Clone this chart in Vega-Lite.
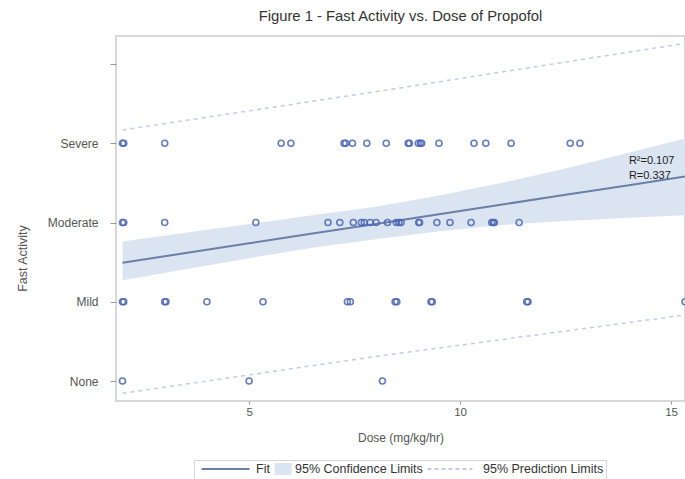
{
  "$schema": "https://vega.github.io/schema/vega-lite/v6.json",
  "autosize": "none",
  "width": 569,
  "height": 365,
  "padding": {"left": 116, "top": 36, "right": 0, "bottom": 78},
  "background": "white",
  "title": {"text": "Figure 1 - Fast Activity vs. Dose of Propofol", "fontSize": 14.8, "fontWeight": "normal", "color": "#333333", "offset": 12, "anchor": "middle"},
  "config": {
    "font": "Liberation Sans",
    "view": {"stroke": "#cccccc", "strokeWidth": 1.5}
  },
  "datasets": {
    "pts": [
      {"dose": 2.0, "level": 3}, {"dose": 2.03, "level": 3}, {"dose": 3.0, "level": 3}, {"dose": 5.76, "level": 3}, {"dose": 5.99, "level": 3},
      {"dose": 7.25, "level": 3}, {"dose": 7.29, "level": 3}, {"dose": 7.45, "level": 3}, {"dose": 7.79, "level": 3}, {"dose": 8.25, "level": 3},
      {"dose": 8.77, "level": 3}, {"dose": 8.8, "level": 3}, {"dose": 9.01, "level": 3}, {"dose": 9.06, "level": 3}, {"dose": 9.09, "level": 3},
      {"dose": 9.5, "level": 3}, {"dose": 10.33, "level": 3}, {"dose": 10.61, "level": 3}, {"dose": 11.21, "level": 3}, {"dose": 12.61, "level": 3}, {"dose": 12.84, "level": 3},
      {"dose": 2.0, "level": 2}, {"dose": 2.03, "level": 2}, {"dose": 3.0, "level": 2}, {"dose": 5.16, "level": 2}, {"dose": 6.87, "level": 2},
      {"dose": 7.15, "level": 2}, {"dose": 7.47, "level": 2}, {"dose": 7.66, "level": 2}, {"dose": 7.73, "level": 2}, {"dose": 7.87, "level": 2},
      {"dose": 8.01, "level": 2}, {"dose": 8.28, "level": 2}, {"dose": 8.49, "level": 2}, {"dose": 8.55, "level": 2}, {"dose": 8.6, "level": 2},
      {"dose": 9.02, "level": 2}, {"dose": 9.04, "level": 2}, {"dose": 9.45, "level": 2}, {"dose": 9.76, "level": 2}, {"dose": 10.26, "level": 2},
      {"dose": 10.75, "level": 2}, {"dose": 10.79, "level": 2}, {"dose": 10.81, "level": 2}, {"dose": 11.4, "level": 2},
      {"dose": 2.0, "level": 1}, {"dose": 2.03, "level": 1}, {"dose": 3.0, "level": 1}, {"dose": 3.03, "level": 1}, {"dose": 4.0, "level": 1},
      {"dose": 5.33, "level": 1}, {"dose": 7.33, "level": 1}, {"dose": 7.4, "level": 1}, {"dose": 8.46, "level": 1}, {"dose": 8.5, "level": 1},
      {"dose": 9.31, "level": 1}, {"dose": 9.34, "level": 1}, {"dose": 11.58, "level": 1}, {"dose": 11.61, "level": 1}, {"dose": 15.33, "level": 1},
      {"dose": 2.0, "level": 0}, {"dose": 5.0, "level": 0}, {"dose": 8.16, "level": 0}
    ],
    "band": [
      {"dose": 2.0, "fit": 1.493, "lo": 1.27, "hi": 1.76},
      {"dose": 3.5, "fit": 1.615, "lo": 1.41, "hi": 1.87},
      {"dose": 5.0, "fit": 1.738, "lo": 1.55, "hi": 1.98},
      {"dose": 6.5, "fit": 1.86, "lo": 1.68, "hi": 2.09},
      {"dose": 8.0, "fit": 1.982, "lo": 1.79, "hi": 2.2},
      {"dose": 9.5, "fit": 2.104, "lo": 1.89, "hi": 2.34},
      {"dose": 11.0, "fit": 2.227, "lo": 1.97, "hi": 2.5},
      {"dose": 12.5, "fit": 2.349, "lo": 2.02, "hi": 2.68},
      {"dose": 14.0, "fit": 2.471, "lo": 2.06, "hi": 2.88},
      {"dose": 15.33, "fit": 2.579, "lo": 2.09, "hi": 3.06}
    ],
    "pred": [
      {"dose": 2.0, "plo": -0.155, "phi": 3.167},
      {"dose": 8.0, "plo": 0.31, "phi": 3.65},
      {"dose": 15.33, "plo": 0.833, "phi": 4.26}
    ],
    "ann": [
      {"dose": 14.0, "level": 2.776, "txt": "R²=0.107"},
      {"dose": 14.0, "level": 2.587, "txt": "R=0.337"}
    ]
  },
  "layer": [
    {
      "data": {"name": "band"},
      "mark": {"type": "area", "clip": true, "opacity": 1},
      "encoding": {
        "x": {"field": "dose", "type": "quantitative", "scale": {"domain": [1.846, 15.33], "nice": false, "zero": false},
          "axis": {"values": [5, 10, 15], "grid": false, "domain": false, "tickSize": 3, "tickColor": "#999999", "labelFontSize": 11.5, "labelColor": "#555555", "labelPadding": 2,
            "title": "Dose (mg/kg/hr)", "titleFontSize": 12, "titleFontWeight": "normal", "titleColor": "#555555", "titlePadding": 15}},
        "y": {"field": "lo", "type": "quantitative", "scale": {"domain": [-0.252, 4.353], "nice": false, "zero": false},
          "axis": {"values": [0, 1, 2, 3, 4], "grid": false, "domain": false, "tickSize": 6, "tickColor": "#999999", "labelFontSize": 12, "labelColor": "#555555", "labelPadding": 12,
            "labelExpr": "datum.value == 0 ? 'None' : datum.value == 1 ? 'Mild' : datum.value == 2 ? 'Moderate' : datum.value == 3 ? 'Severe' : ''",
            "title": "Fast Activity", "titleFontSize": 12.5, "titleFontWeight": "normal", "titleColor": "#555555", "titleX": -94, "titleY": 222, "titleAngle": -90, "titleBaseline": "middle", "titleAlign": "center"}},
        "y2": {"field": "hi"},
        "color": {"datum": "95% Confidence Limits", "type": "nominal",
          "scale": {"domain": ["Fit", "95% Confidence Limits", "95% Prediction Limits"], "range": ["#6b7fa9", "#dbe4f1", "#c6c9ec"]},
          "legend": {"orient": "none", "legendX": 78, "legendY": 424, "direction": "horizontal",
            "title": "MMM", "titleOrient": "left", "titleFontSize": 12.5, "titleFontWeight": "normal", "titleOpacity": 0, "titlePadding": 7,
            "labelExpr": "datum.label == '95% Confidence Limits' ? datum.label + '\u00a0\u00a0\u00a0\u00a0\u00a0\u00a0\u00a0\u00a0\u00a0\u00a0\u00a0\u00a0\u00a0\u00a0' : datum.label == '95% Prediction Limits' ? datum.label + '\u00a0\u00a0\u00a0\u00a0' : datum.label",
            "symbolSize": 144, "symbolStrokeWidth": 2, "symbolOpacity": 1, "labelFontSize": 12.5, "labelColor": "#333333", "labelOffset": 7, "columnPadding": 0,
            "strokeColor": "#d4d4d4", "padding": 2, "fillColor": "white"}}
      }
    },
    {
      "data": {"name": "pred"},
      "mark": {"type": "line", "clip": true, "strokeDash": [4, 4], "strokeWidth": 1.5},
      "encoding": {
        "x": {"field": "dose", "type": "quantitative"},
        "y": {"field": "plo", "type": "quantitative"},
        "color": {"datum": "95% Prediction Limits", "type": "nominal"}
      }
    },
    {
      "data": {"name": "pred"},
      "mark": {"type": "line", "clip": true, "strokeDash": [4, 4], "strokeWidth": 1.5},
      "encoding": {
        "x": {"field": "dose", "type": "quantitative"},
        "y": {"field": "phi", "type": "quantitative"},
        "color": {"datum": "95% Prediction Limits", "type": "nominal"}
      }
    },
    {
      "data": {"name": "band"},
      "mark": {"type": "line", "clip": true, "strokeWidth": 2},
      "encoding": {
        "x": {"field": "dose", "type": "quantitative"},
        "y": {"field": "fit", "type": "quantitative"},
        "color": {"datum": "Fit", "type": "nominal"}
      }
    },
    {
      "data": {"values": []},
      "mark": {"type": "point", "filled": false, "opacity": 1},
      "encoding": {
        "color": {"field": "item", "type": "nominal"},
        "shape": {"field": "item", "type": "nominal",
          "scale": {"domain": ["Fit", "95% Confidence Limits", "95% Prediction Limits"],
            "range": ["M0,-0.833M0,0.833M-6.75,0H1.25", "M-1.08,-0.833H1.75M-1.08,-0.5H1.75M-1.08,-0.167H1.75M-1.08,0.167H1.75M-1.08,0.5H1.75M-1.08,0.833H1.75", "M0,-0.833M0,0.833M-6.92,0H0.58"]},
          "legend": {"orient": "none", "legendX": 78, "legendY": 424, "direction": "horizontal", "title": "MMM", "titleOrient": "left", "titleFontSize": 12.5, "titleFontWeight": "normal", "titleOpacity": 0, "titlePadding": 7, "symbolSize": 144, "symbolStrokeWidth": 2}},
        "strokeDash": {"field": "item", "type": "nominal",
          "scale": {"domain": ["Fit", "95% Confidence Limits", "95% Prediction Limits"], "range": [[1, 0], [1, 0], [4, 3]]},
          "legend": {"orient": "none", "legendX": 78, "legendY": 424, "direction": "horizontal", "title": "MMM", "titleOrient": "left", "titleFontSize": 12.5, "titleFontWeight": "normal", "titleOpacity": 0, "titlePadding": 7, "symbolSize": 144, "symbolStrokeWidth": 2}}
      }
    },
    {
      "data": {"name": "pts"},
      "mark": {"type": "point", "shape": "circle", "filled": false, "clip": true, "size": 36, "strokeWidth": 1.6, "color": "#4a66b3", "opacity": 0.85},
      "encoding": {
        "x": {"field": "dose", "type": "quantitative"},
        "y": {"field": "level", "type": "quantitative"}
      }
    },
    {
      "data": {"name": "ann"},
      "mark": {"type": "text", "align": "left", "baseline": "middle", "fontSize": 11, "color": "#222222"},
      "encoding": {
        "x": {"field": "dose", "type": "quantitative"},
        "y": {"field": "level", "type": "quantitative"},
        "text": {"field": "txt"}
      }
    }
  ]
}
